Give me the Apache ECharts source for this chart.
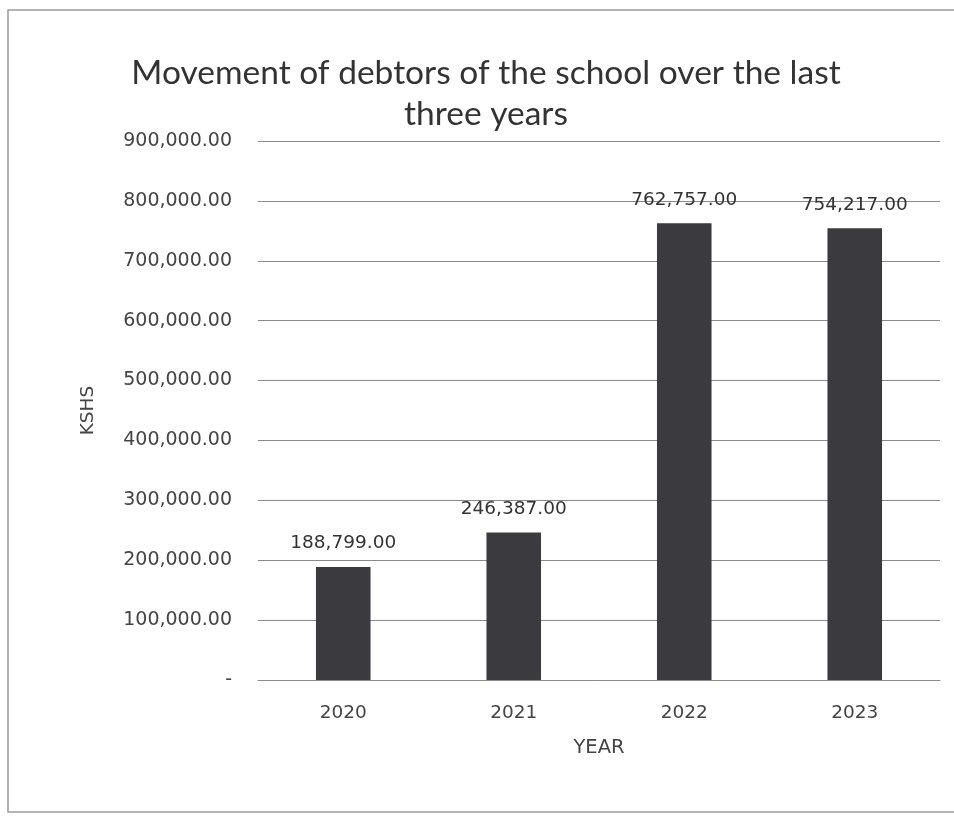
<!DOCTYPE html>
<html><head><meta charset="utf-8">
<script src="https://cdn.jsdelivr.net/npm/echarts@6/dist/echarts.min.js"></script>
<style>html,body{margin:0;padding:0;background:#fff}#c{width:954px;height:817px}</style>
</head><body><div id="c"></div>
<script>
var categories = ['2020', '2021', '2022', '2023'];
var debtors = [188799, 246387, 762757, 754217];
var yTicks = [0, 100000, 200000, 300000, 400000, 500000, 600000, 700000, 800000, 900000];
var titleText = 'Movement of debtors of the school over the last\nthree years';

function fmt(v) {
  if (v === 0) return '-';
  return v.toLocaleString('en-US', {minimumFractionDigits: 2, maximumFractionDigits: 2});
}

var chart = echarts.init(document.getElementById('c'), null, {renderer: 'canvas'});
chart.setOption({
  backgroundColor: '#fff',
  animation: false,
  title: {
    text: titleText,
    left: 481, top: 48, textAlign: 'center',
    textStyle: {fontFamily: 'Lato', fontWeight: 'normal', fontSize: 33.5, color: '#333', lineHeight: 41}
  },
  graphic: [{
    type: 'rect', shape: {x: 8, y: 10, width: 960, height: 802},
    style: {fill: 'none', stroke: '#9a9a9a', lineWidth: 1.5}, silent: true
  }],
  grid: {left: 258, right: 14, top: 141, bottom: 137},
  xAxis: {
    type: 'category', data: categories,
    name: 'YEAR', nameLocation: 'middle', nameGap: 58,
    nameTextStyle: {fontFamily: 'DejaVu Sans', fontSize: 19.5, color: '#444'},
    axisLine: {lineStyle: {color: '#8a8a8a', width: 1}},
    axisTick: {show: false},
    axisLabel: {margin: 24, fontFamily: 'DejaVu Sans', fontSize: 18.5, color: '#444'}
  },
  yAxis: {
    type: 'value', min: 0, max: 900000, interval: 100000,
    name: 'KSHS', nameLocation: 'middle', nameGap: 160, nameRotate: 90,
    nameTextStyle: {fontFamily: 'DejaVu Sans', fontSize: 18.5, color: '#444'},
    axisLine: {show: false}, axisTick: {show: false},
    axisLabel: {margin: 26, fontFamily: 'DejaVu Sans', fontSize: 19, color: '#444',
      formatter: function (v) { return yTicks.indexOf(v) >= 0 ? fmt(v) : ''; }},
    splitLine: {lineStyle: {color: '#8a8a8a', width: 1}}
  },
  series: [{
    type: 'bar', data: debtors, barWidth: '32%',
    itemStyle: {color: '#3a3a3f'},
    label: {show: true, position: 'top', distance: 14,
      fontFamily: 'DejaVu Sans', fontSize: 18.5, color: '#333',
      formatter: function (p) { return fmt(p.value); }}
  }]
});
</script></body></html>
